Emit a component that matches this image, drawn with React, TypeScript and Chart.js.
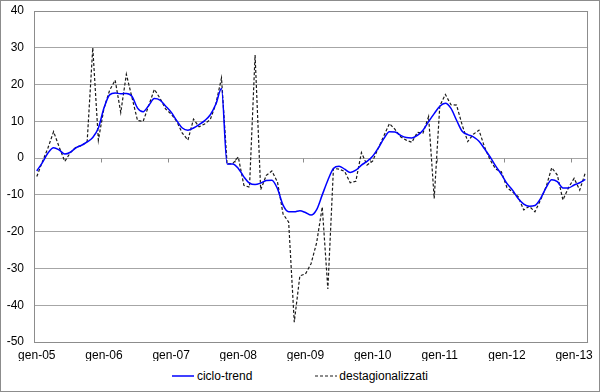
import React, { useEffect, useRef } from "react";
import { Chart, registerables } from "chart.js";

Chart.register(...registerables);

// ---- data ----
const monthNames = ["gen", "feb", "mar", "apr", "mag", "giu", "lug", "ago", "set", "ott", "nov", "dic"];
const years = ["05", "06", "07", "08", "09", "10", "11", "12", "13"];
const monthCount = 99; // gen-05 .. mar-13
const categories: string[] = Array.from({ length: monthCount }, (_, i) => `${monthNames[i % 12]}-${years[Math.floor(i / 12)]}`);

const yTicks = { min: -50, max: 40, step: 10 };

const seriesNames = ["ciclo-trend", "destagionalizzati"];

const cicloTrend2005 = [-3.5, -1.2, 1.4, 2.8, 2.2, 1.1, 1.6, 2.8, 3.5, 4.4, 5.6, 8.2];
const cicloTrend2006 = [13.6, 17.2, 17.7, 17.5, 17.6, 16.8, 13.6, 12.6, 14.3, 16.2, 15.8, 14.2];
const cicloTrend2007 = [12.5, 10.2, 8.2, 7.6, 8.2, 9.1, 10.2, 11.8, 14.7, 18.9, -1.6, -1.6];
const cicloTrend2008 = [-2.8, -5.1, -6.8, -7.2, -6.8, -6.1, -6.0, -8.3, -12.8, -14.6, -14.6, -14.3];
const cicloTrend2009 = [-14.8, -15.5, -14.0, -10.0, -6.0, -2.8, -2.2, -3.0, -3.9, -3.3, -1.9, -0.9];
const cicloTrend2010 = [0.5, 2.7, 5.3, 7.2, 7.1, 6.2, 5.6, 5.5, 6.2, 7.6, 9.9, 12.1];
const cicloTrend2011 = [14.1, 14.9, 13.5, 10.3, 7.3, 6.4, 5.8, 4.6, 2.5, 0.3, -2.2, -4.4];
const cicloTrend2012 = [-6.9, -8.7, -11.0, -12.5, -13.1, -12.9, -11.0, -8.0, -5.9, -6.4, -8.1, -8.1];
const cicloTrend2013 = [-7.3, -6.7, -5.8];

const destag2005 = [-5.0, -1.0, 2.8, 7.2, 3.0, -0.9, 1.5, 3.0, 3.4, 4.5, 30.0, 4.9];
const destag2006 = [13.5, 18.4, 21.2, 12.4, 22.8, 16.5, 10.2, 10.0, 14.3, 18.7, 16.3, 13.4];
const destag2007 = [12.0, 10.0, 6.8, 4.9, 10.6, 8.5, 9.3, 10.5, 14.8, 21.8, -1.6, -1.5];
const destag2008 = [0.3, -7.4, -7.9, 28.0, -8.6, -4.7, -3.5, -6.5, -15.2, -17.4, -44.6, -32.0];
const destag2009 = [-31.5, -28.7, -23.0, -13.3, -35.6, -2.8, -3.0, -3.6, -6.7, -6.3, 1.5, -1.9];
const destag2010 = [-0.8, 2.7, 6.0, 9.4, 7.8, 5.8, 4.9, 4.3, 7.0, 6.8, 11.3, -11.0];
const destag2011 = [14.2, 17.3, 14.5, 14.4, 9.0, 4.5, 6.5, 7.6, 3.0, -0.5, -3.0, -3.7];
const destag2012 = [-8.0, -9.2, -10.5, -14.1, -13.1, -14.6, -11.4, -7.8, -2.6, -4.6, -11.4, -8.0];
const destag2013 = [-5.5, -8.7, -4.0];

const cicloTrend = [
  ...cicloTrend2005, ...cicloTrend2006, ...cicloTrend2007, ...cicloTrend2008, ...cicloTrend2009,
  ...cicloTrend2010, ...cicloTrend2011, ...cicloTrend2012, ...cicloTrend2013,
];
const destagionalizzati = [
  ...destag2005, ...destag2006, ...destag2007, ...destag2008, ...destag2009,
  ...destag2010, ...destag2011, ...destag2012, ...destag2013,
];

const FONT = '"Liberation Sans", Arial, sans-serif';
const GRID = "#a6a6a6";
const BLUE = "#0000ff";
const DASH = "#1a1a1a";

const frame = {
  id: "frame",
  beforeDatasetsDraw(chart: any) {
    const { ctx, chartArea: a, scales } = chart;
    const xs = scales.x;
    const ys = scales.y;
    ctx.save();
    ctx.strokeStyle = "#8c8c8c";
    ctx.lineWidth = 1;
    ctx.strokeRect(Math.round(a.left) + 0.5, Math.round(a.top) + 0.5, Math.round(a.right - a.left) - 1, Math.round(a.bottom - a.top));
    const y0 = Math.round(ys.getPixelForValue(0)) + 0.5;
    ctx.beginPath();
    for (let k = 12; k < categories.length; k += 12) {
      const px = Math.round((xs.getPixelForValue(k - 1) + xs.getPixelForValue(k)) / 2) + 0.5;
      ctx.moveTo(px, y0);
      ctx.lineTo(px, y0 + 4);
    }
    ctx.stroke();
    ctx.restore();
  },
};

export default function App() {
  const ref = useRef<HTMLCanvasElement | null>(null);

  useEffect(() => {
    document.body.style.margin = "0";
    const canvas = ref.current;
    if (!canvas) return;
    const chart = new Chart(canvas, {
      type: "line",
      data: {
        labels: categories,
        datasets: [
          {
            label: seriesNames[0],
            data: cicloTrend,
            borderColor: BLUE,
            borderWidth: 1.5,
            pointRadius: 0,
            cubicInterpolationMode: "monotone",
            fill: false,
          },
          {
            label: seriesNames[1],
            data: destagionalizzati,
            borderColor: DASH,
            borderWidth: 1.2,
            borderDash: [3, 2],
            pointRadius: 0,
            tension: 0,
            fill: false,
          },
        ],
      },
      options: {
        responsive: false,
        animation: false,
        devicePixelRatio: 1,
        layout: { padding: { top: 10, right: 8, left: 0, bottom: 0 } },
        plugins: {
          legend: { display: false },
          tooltip: { enabled: false },
        },
        scales: {
          x: {
            type: "category",
            offset: true,
            grid: { display: false, drawTicks: false },
            border: { display: false },
            ticks: {
              autoSkip: false,
              maxRotation: 0,
              minRotation: 0,
              padding: 6,
              color: "#000",
              font: { family: FONT, size: 12 },
              callback: (_v: any, index: number) => (index % 12 === 0 ? categories[index] : null),
            },
            afterFit: (s: any) => {
              s.height = 19;
            },
          },
          y: {
            min: yTicks.min,
            max: yTicks.max,
            ticks: {
              stepSize: yTicks.step,
              padding: 10,
              color: "#000",
              font: { family: FONT, size: 12 },
            },
            grid: { color: GRID, drawTicks: false },
            border: { display: false },
            afterFit: (s: any) => {
              s.width = 33;
              s.paddingTop = 0;
              s.paddingBottom = 0;
            },
          },
        },
      },
      plugins: [frame],
    });
    return () => chart.destroy();
  }, []);

  const legendItem = (color: string, dash: string | undefined, width: number) => (
    <svg width="22" height="4" style={{ display: "block" }}>
      <line x1="0" y1="2" x2="22" y2="2" stroke={color} strokeWidth={width} strokeDasharray={dash} />
    </svg>
  );

  return (
    <div
      style={{
        position: "relative",
        width: 600,
        height: 392,
        boxSizing: "border-box",
        border: "1px solid #8c8c8c",
        background: "#fff",
        overflow: "hidden",
      }}
    >
      <canvas ref={ref} width={598} height={360} style={{ display: "block" }} />
      <div
        style={{
          position: "absolute",
          left: 0,
          right: 0,
          top: 368,
          height: 14,
          display: "flex",
          justifyContent: "center",
          alignItems: "center",
          font: `12px ${FONT}`,
          lineHeight: "14px",
          color: "#000",
        }}
      >
        <span style={{ display: "flex", alignItems: "center" }}>
          {legendItem(BLUE, undefined, 1.5)}
          <span style={{ marginLeft: 3 }}>{seriesNames[0]}</span>
        </span>
        <span style={{ display: "flex", alignItems: "center", marginLeft: 63 }}>
          {legendItem(DASH, "3 2", 1)}
          <span style={{ marginLeft: 2 }}>{seriesNames[1]}</span>
        </span>
      </div>
    </div>
  );
}
